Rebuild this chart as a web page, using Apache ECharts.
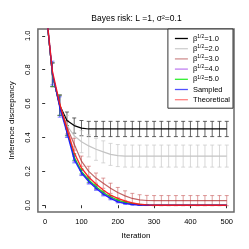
<!DOCTYPE html>
<html><head><meta charset="utf-8">
<script src="https://cdn.jsdelivr.net/npm/echarts@6/dist/echarts.min.js"></script>
<style>html,body{margin:0;padding:0;background:#fff}#c{width:249px;height:249px}</style>
</head><body><div id="c"></div>
<script>
const iterations = [0,20,40,60,80,100,120,140,160,180,200,220,240,260,280,300,320,340,360,380,400,420,440,460,480,500];
const beta1 = [1.20,0.77,0.59,0.50,0.47,0.455,0.45,0.45,0.45,0.45,0.45,0.45,0.45,0.45,0.45,0.45,0.45,0.45,0.45,0.45,0.45,0.45,0.45,0.45,0.45,0.45];
const beta1Err = [0,0.07,0.06,0.05,0.045,0.045,0.045,0.045,0.045,0.045,0.045,0.045,0.045,0.045,0.045,0.045,0.045,0.045,0.045,0.045,0.045,0.045,0.045,0.045,0.045,0.045];
const beta2 = [1.20,0.77,0.59,0.47,0.41,0.375,0.35,0.33,0.315,0.30,0.293,0.29,0.29,0.29,0.29,0.29,0.29,0.29,0.29,0.29,0.29,0.29,0.29,0.29,0.29,0.29];
const beta2Err = [0,0.07,0.06,0.06,0.065,0.065,0.065,0.065,0.065,0.065,0.065,0.065,0.065,0.065,0.065,0.065,0.065,0.065,0.065,0.065,0.065,0.065,0.065,0.065,0.065,0.065];
const beta3 = [1.20,0.77,0.59,0.46,0.36,0.26,0.20,0.16,0.13,0.10,0.075,0.055,0.04,0.032,0.028,0.027,0.027,0.027,0.027,0.027,0.027,0.027,0.027,0.027,0.027,0.027];
const beta3Err = [0,0.07,0.06,0.04,0.035,0.03,0.03,0.03,0.03,0.03,0.03,0.03,0.03,0.03,0.03,0.03,0.03,0.03,0.03,0.03,0.03,0.03,0.03,0.03,0.03,0.03];
const beta4 = [1.20,0.77,0.59,0.44,0.28,0.195,0.145,0.105,0.07,0.045,0.025,0.013,0.006,0.002,0,0,0,0,0,0,0,0,0,0,0,0];
const beta5 = [1.20,0.77,0.59,0.44,0.285,0.20,0.15,0.11,0.075,0.05,0.03,0.017,0.009,0.004,0.001,0,0,0,0,0,0,0,0,0,0,0];
const sampled = [1.20,0.78,0.58,0.43,0.27,0.19,0.14,0.10,0.065,0.04,0.02,0.01,0.004,0.001,0,0,0,0,0,0,0,0,0,0,0,0];
const smallErr = [0,0.07,0.06,0.03,0.02,0.015,0.015,0.012,0.01,0.008,0.006,0.004,0.003,0.002,0.001,0,0,0,0,0,0,0,0,0,0,0];
const theoretical = [1.20,0.79,0.60,0.45,0.31,0.22,0.165,0.125,0.09,0.06,0.04,0.025,0.013,0.006,0.002,0,0,0,0,0,0,0,0,0,0,0];
const xTicks = [0,100,200,300,400,500];
const yTicks = [0,0.2,0.4,0.6,0.8,1.0];
const seriesNames = ['β1/2=1.0','β1/2=2.0','β1/2=3.0','β1/2=4.0','β1/2=5.0','Sampled','Theoretical'];

const FONT = 'Liberation Sans, Arial, sans-serif';
const pair = arr => iterations.map((x,i)=>[x,arr[i]]);
const triple = (arr,err) => iterations.map((x,i)=>[x,arr[i],err[i]]).filter(d=>d[2]>0);

function errRender(color){
  return function(params, api){
    const x=api.value(0), y=api.value(1), e=api.value(2);
    const hi=api.coord([x,y+e]), lo=api.coord([x,y-e]);
    const w=2;
    const st={stroke:color,lineWidth:1};
    return {type:'group',children:[
      {type:'line',shape:{x1:hi[0],y1:hi[1],x2:lo[0],y2:lo[1]},style:st},
      {type:'line',shape:{x1:hi[0]-w,y1:hi[1],x2:hi[0]+w,y2:hi[1]},style:st},
      {type:'line',shape:{x1:lo[0]-w,y1:lo[1],x2:lo[0]+w,y2:lo[1]},style:st}
    ]};
  };
}
function errSeries(arr,err,color){
  return {type:'custom',data:triple(arr,err),renderItem:errRender(color),clip:true,silent:true,
    encode:{x:0,y:[1,2]},z:2};
}
function lineSeries(name,arr,color,width){
  return {type:'line',name,data:pair(arr),symbol:'none',showSymbol:false,clip:true,
    lineStyle:{color,width:width||1.2},itemStyle:{color},z:3,animation:false};
}
const cols = {
  b1:'#000000', b2:'#c4c4c4', b3:'rgba(175,50,50,0.75)', b4:'rgba(160,32,240,0.75)',
  b5:'rgba(0,220,0,0.85)', s:'rgba(20,20,255,0.9)', t:'rgba(255,20,20,0.9)'
};
const legendCols = ['#000000','#cfcfcf','#d09090','#c080f0','#30f030','#5050ff','#ff8080'];

const chart = echarts.init(document.getElementById('c'),null,{renderer:'canvas'});
chart.setOption({
  animation:false,
  backgroundColor:'#fff',
  title:{text:'Bayes risk: L =1, σ²=0.1',left:131.5,textAlign:'center',top:9,
    textStyle:{fontFamily:FONT,fontSize:8.5,fontWeight:'normal',color:'#000'}},
  grid:{left:29,right:15,top:29,bottom:37,show:true,borderColor:'#6a6a6a',borderWidth:1.5,backgroundColor:'transparent'},
  xAxis:{type:'value',min:-20,max:520,name:'Iteration',nameLocation:'middle',nameGap:20,
    nameTextStyle:{fontFamily:FONT,fontSize:8,color:'#000'},
    axisLine:{show:false},splitLine:{show:false},
    axisTick:{show:true,length:3,customValues:xTicks,lineStyle:{color:'#333'}},
    axisLabel:{customValues:xTicks,fontFamily:FONT,fontSize:7.5,color:'#000',margin:6}},
  yAxis:{type:'value',min:-0.04,max:1.04,name:'Inference discrepancy',nameLocation:'middle',nameGap:18,nameRotate:90,
    nameTextStyle:{fontFamily:FONT,fontSize:8,color:'#000'},
    axisLine:{show:false},splitLine:{show:false},
    axisTick:{show:true,length:3,customValues:yTicks,lineStyle:{color:'#333'}},
    axisLabel:{customValues:yTicks,rotate:90,fontFamily:FONT,fontSize:7.5,color:'#000',margin:6,
      formatter:v=>v.toFixed(1)}},
  legend:{data:seriesNames.map((n,i)=>({name:n,icon:'rect',itemStyle:{color:legendCols[i]}})),
    orient:'vertical',right:16,top:29,itemWidth:13,itemHeight:1.3,itemGap:1.2,
    padding:[5,3,4,7],borderColor:'#333',borderWidth:1,backgroundColor:'#fff',borderRadius:0,
    textStyle:{fontFamily:FONT,fontSize:7.5,color:'#000',lineHeight:9,
      rich:{t:{fontFamily:FONT,fontSize:7.5,color:'#000',lineHeight:9},s:{fontFamily:FONT,fontSize:5,color:'#000',verticalAlign:'top',lineHeight:9,padding:[0,0,2,0]}}},
    formatter:n=> n.startsWith('β') ? '{t|β}{s|1/2}{t|'+n.slice(4)+'}' : '{t|'+n+'}'},
  series:[
    errSeries(beta1,beta1Err,'rgba(60,60,60,0.8)'),
    lineSeries(seriesNames[0],beta1,cols.b1,1.2),
    errSeries(beta2,beta2Err,'rgba(200,200,200,0.7)'),
    lineSeries(seriesNames[1],beta2,cols.b2,1.2),
    errSeries(beta3,beta3Err,'rgba(200,90,90,0.6)'),
    lineSeries(seriesNames[2],beta3,cols.b3,1.2),
    errSeries(beta4,smallErr,'rgba(160,32,240,0.5)'),
    lineSeries(seriesNames[3],beta4,cols.b4,1.2),
    errSeries(beta5,smallErr,'rgba(0,200,0,0.6)'),
    lineSeries(seriesNames[4],beta5,cols.b5,1.2),
    errSeries(sampled,smallErr,'rgba(40,40,255,0.6)'),
    lineSeries(seriesNames[5],sampled,cols.s,1.4),
    lineSeries(seriesNames[6],theoretical,cols.t,1.4)
  ]
});
</script></body></html>
